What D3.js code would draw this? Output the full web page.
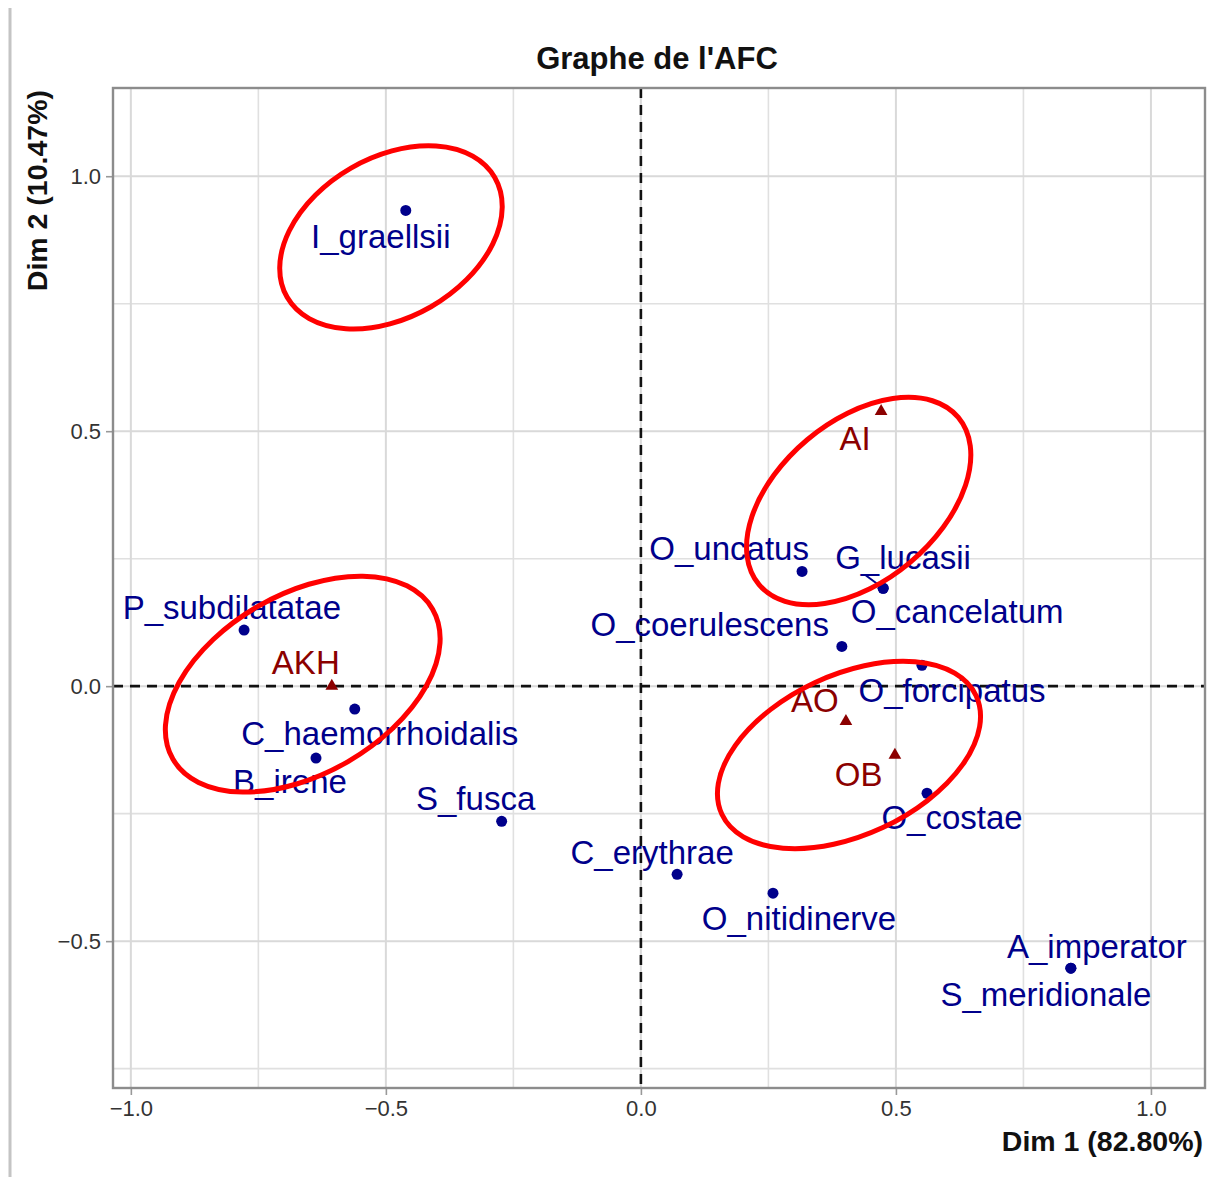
<!DOCTYPE html>
<html>
<head>
<meta charset="utf-8">
<script src="https://d3js.org/d3.v7.min.js"></script>
<style>
  html, body { margin: 0; padding: 0; background: #fff; }
  svg { display: block; font-family: "Liberation Sans", Arial, Helvetica, sans-serif; }
</style>
</head>
<body>
<svg id="chart" width="1214" height="1177"></svg>
<script>
// --- data (Dim 1 / Dim 2 coordinates) ---
const speciesNames = ["I_graellsii", "P_subdilatatae", "C_haemorrhoidalis", "B_irene", "S_fusca",
  "C_erythrae", "O_nitidinerve", "A_imperator", "S_meridionale", "O_uncatus", "G_lucasii",
  "O_cancelatum", "O_coerulescens", "O_forcipatus", "O_costae"];
const speciesDim1 = [-0.461, -0.778, -0.561, -0.637, -0.273, 0.071, 0.259, 0.843, 0.843, 0.316, 0.475, 0.475, 0.394, 0.551, 0.561];
const speciesDim2 = [0.933, 0.110, -0.045, -0.141, -0.265, -0.369, -0.406, -0.553, -0.553, 0.225, 0.192, 0.192, 0.078, 0.041, -0.210];
// where the (repelled) labels sit, in the same units
const speciesLabelDim1 = [-0.510, -0.802, -0.512, -0.688, -0.324, 0.022, 0.310, 0.894, 0.794, 0.173, 0.514, 0.620, 0.135, 0.610, 0.610];
const speciesLabelDim2 = [0.882, 0.155, -0.092, -0.186, -0.220, -0.325, -0.455, -0.510, -0.604, 0.271, 0.253, 0.147, 0.122, -0.008, -0.257];

const habitatNames = ["AI", "AKH", "AO", "OB"];
const habitatDim1 = [0.471, -0.606, 0.402, 0.498];
const habitatDim2 = [0.539, 0.000, -0.069, -0.135];
const habitatLabelDim1 = [0.420, -0.657, 0.341, 0.427];
const habitatLabelDim2 = [0.486, 0.047, -0.027, -0.173];

// ggrepel connector (G_lucasii)
const segFrom = [[0.475, 0.192]];
const segTo = [[0.440, 0.218]];

// hand drawn red ellipses (centre, radii in data units, tilt in degrees)
const clusterCx = [-0.490, 0.427, -0.663, 0.408];
const clusterCy = [0.880, 0.363, 0.004, -0.135];
const clusterRx = [0.235, 0.255, 0.294, 0.275];
const clusterRy = [0.157, 0.157, 0.176, 0.157];
const clusterAngle = [-30, -40, -30, -25];

const xTicks = [-1.0, -0.5, 0.0, 0.5, 1.0];
const yTicks = [-0.5, 0.0, 0.5, 1.0];
const xMinor = [-0.75, -0.25, 0.25, 0.75];
const yMinor = [-0.75, -0.25, 0.25, 0.75];

// --- layout ---
const svg = d3.select("#chart");
const margin = { top: 88, right: 9, bottom: 89, left: 113 };
const W = 1214, H = 1177;
const pw = W - margin.left - margin.right;
const ph = H - margin.top - margin.bottom;

const x = d3.scaleLinear().domain([-1.035, 1.106]).range([margin.left, margin.left + pw]);
const y = d3.scaleLinear().domain([-0.788, 1.173]).range([margin.top + ph, margin.top]);

const BLUE = "#00008b", RED = "#8b0000";

// page edge line on the left
svg.append("line").attr("x1", 10).attr("x2", 10).attr("y1", 8).attr("y2", H)
  .attr("stroke", "#c4c4c4").attr("stroke-width", 3);

const g = svg.append("g");

// grid
g.selectAll(".vminor").data(xMinor).enter().append("line")
  .attr("x1", d => x(d)).attr("x2", d => x(d)).attr("y1", margin.top).attr("y2", margin.top + ph)
  .attr("stroke", "#e0e0e0").attr("stroke-width", 1.6);
g.selectAll(".hminor").data(yMinor).enter().append("line")
  .attr("y1", d => y(d)).attr("y2", d => y(d)).attr("x1", margin.left).attr("x2", margin.left + pw)
  .attr("stroke", "#e0e0e0").attr("stroke-width", 1.6);
g.selectAll(".vmajor").data(xTicks).enter().append("line")
  .attr("x1", d => x(d)).attr("x2", d => x(d)).attr("y1", margin.top).attr("y2", margin.top + ph)
  .attr("stroke", "#d9d9d9").attr("stroke-width", 2);
g.selectAll(".hmajor").data(yTicks).enter().append("line")
  .attr("y1", d => y(d)).attr("y2", d => y(d)).attr("x1", margin.left).attr("x2", margin.left + pw)
  .attr("stroke", "#d9d9d9").attr("stroke-width", 2);

// zero lines
g.append("line").attr("x1", x(0)).attr("x2", x(0)).attr("y1", margin.top).attr("y2", margin.top + ph)
  .attr("stroke", "#111").attr("stroke-width", 2.6).attr("stroke-dasharray", "10,7");
g.append("line").attr("y1", y(0)).attr("y2", y(0)).attr("x1", margin.left).attr("x2", margin.left + pw)
  .attr("stroke", "#111").attr("stroke-width", 2.6).attr("stroke-dasharray", "10,7");

// axes
const xAxis = d3.axisBottom(x).tickValues(xTicks).tickFormat(d3.format(".1f")).tickSize(7).tickPadding(5);
const yAxis = d3.axisLeft(y).tickValues(yTicks).tickFormat(d3.format(".1f")).tickSize(7).tickPadding(5);

const gx = svg.append("g").attr("transform", `translate(0,${margin.top + ph})`).call(xAxis);
const gy = svg.append("g").attr("transform", `translate(${margin.left},0)`).call(yAxis);
[gx, gy].forEach(a => {
  a.select(".domain").remove();
  a.selectAll(".tick line").attr("stroke", "#999").attr("stroke-width", 1.6);
  a.selectAll(".tick text").attr("fill", "#333").style("font-size", "22px")
    .style("font-family", "'Liberation Sans', Arial, sans-serif");
});

// panel border
svg.append("rect").attr("x", margin.left).attr("y", margin.top).attr("width", pw).attr("height", ph)
  .attr("fill", "none").attr("stroke", "#8c8c8c").attr("stroke-width", 2.4);

// connector
g.selectAll(".seg").data(segFrom).enter().append("line")
  .attr("x1", (d, i) => x(d[0])).attr("y1", (d, i) => y(d[1]))
  .attr("x2", (d, i) => x(segTo[i][0])).attr("y2", (d, i) => y(segTo[i][1]))
  .attr("stroke", BLUE).attr("stroke-width", 2);

// species points + labels
const species = speciesNames.map((n, i) => ({ n, x: speciesDim1[i], y: speciesDim2[i], lx: speciesLabelDim1[i], ly: speciesLabelDim2[i] }));
g.selectAll(".pt").data(species).enter().append("circle")
  .attr("cx", d => x(d.x)).attr("cy", d => y(d.y)).attr("r", 5.5).attr("fill", BLUE);
g.selectAll(".lab").data(species).enter().append("text")
  .attr("x", d => x(d.lx)).attr("y", d => y(d.ly)).attr("dy", "0.36em")
  .attr("text-anchor", "middle").attr("fill", BLUE).style("font-size", "33px")
  .text(d => d.n);

// habitat triangles + labels
const habitats = habitatNames.map((n, i) => ({ n, x: habitatDim1[i], y: habitatDim2[i], lx: habitatLabelDim1[i], ly: habitatLabelDim2[i] }));
g.selectAll(".tri").data(habitats).enter().append("path")
  .attr("d", d3.symbol().type(d3.symbolTriangle).size(70))
  .attr("transform", d => `translate(${x(d.x)},${y(d.y)})`).attr("fill", RED);
g.selectAll(".hlab").data(habitats).enter().append("text")
  .attr("x", d => x(d.lx)).attr("y", d => y(d.ly)).attr("dy", "0.36em")
  .attr("text-anchor", "middle").attr("fill", RED).style("font-size", "33px")
  .text(d => d.n);

// red annotation ellipses
const clusters = clusterCx.map((cx, i) => ({ cx, cy: clusterCy[i], rx: clusterRx[i], ry: clusterRy[i], a: clusterAngle[i] }));
g.selectAll(".ell").data(clusters).enter().append("ellipse")
  .attr("cx", 0).attr("cy", 0)
  .attr("rx", d => x(d.cx + d.rx) - x(d.cx))
  .attr("ry", d => y(d.cy) - y(d.cy + d.ry))
  .attr("transform", d => `translate(${x(d.cx)},${y(d.cy)}) rotate(${d.a})`)
  .attr("fill", "none").attr("stroke", "#ff0000").attr("stroke-width", 5);

// titles
svg.append("text").attr("x", margin.left + pw / 2 - 2).attr("y", 69).attr("text-anchor", "middle")
  .style("font-size", "31px").style("font-weight", "bold").attr("fill", "#111").text("Graphe de l'AFC");
svg.append("text").attr("x", margin.left + pw - 2).attr("y", 1151).attr("text-anchor", "end")
  .style("font-size", "28.5px").style("font-weight", "bold").attr("fill", "#111").text("Dim 1 (82.80%)");
svg.append("text").attr("transform", `translate(47,${margin.top + 2}) rotate(-90)`).attr("text-anchor", "end")
  .style("font-size", "28.5px").style("font-weight", "bold").attr("fill", "#111").text("Dim 2 (10.47%)");
</script>
</body>
</html>
